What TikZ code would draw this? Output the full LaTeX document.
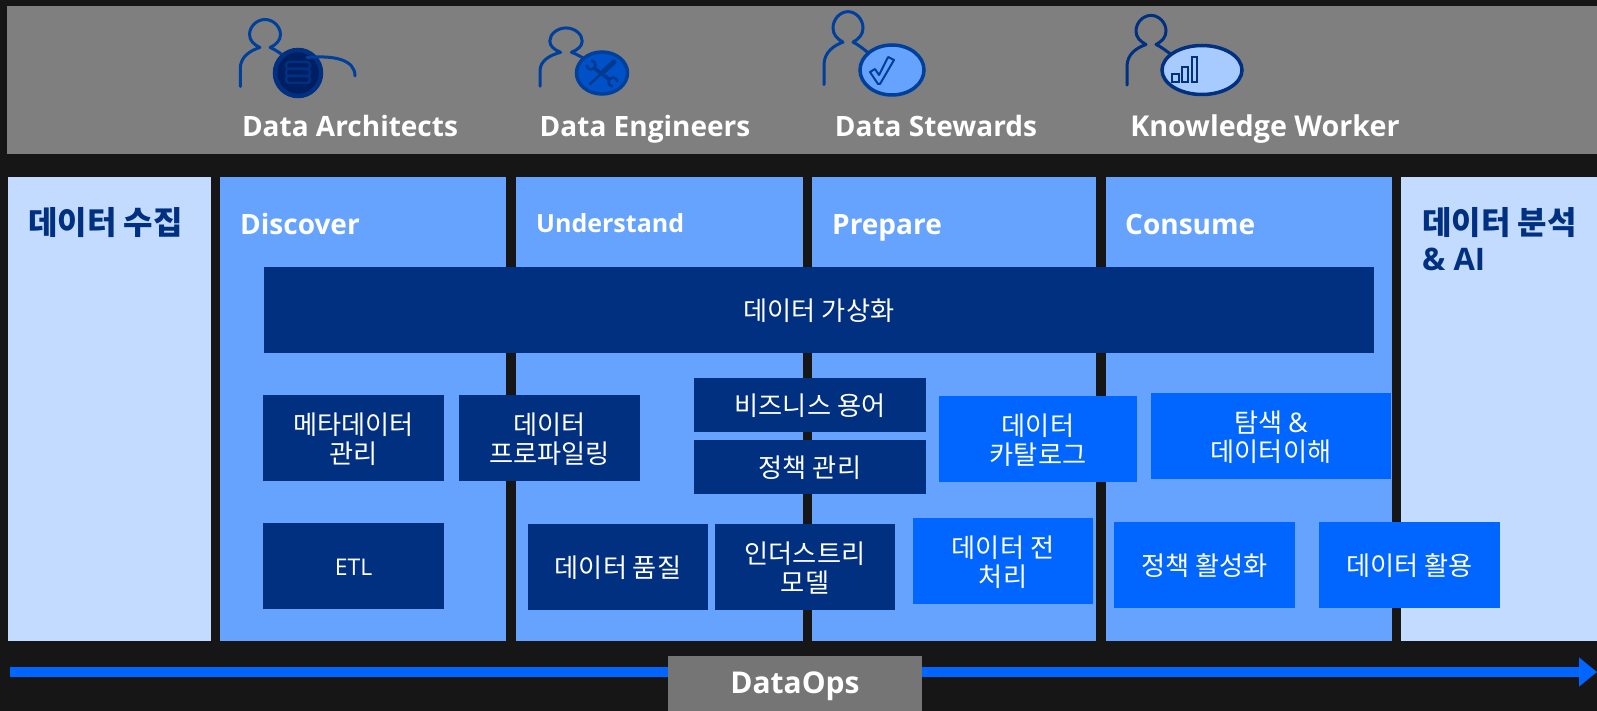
\documentclass[tikz,border=0pt]{standalone}
\usepackage{fontspec}
\setmainfont{Noto Sans CJK KR}
\newfontfamily\latinf{Open Sans}
\usetikzlibrary{arrows.meta}
\definecolor{bgc}{HTML}{161616}
\definecolor{grayband}{HTML}{7F7F7F}
\definecolor{pale}{HTML}{C2DBFF}
\definecolor{mid}{HTML}{66A3FF}
\definecolor{navy}{HTML}{00307F}
\definecolor{bright}{HTML}{0066FF}
\definecolor{opsgray}{HTML}{757575}
\definecolor{iconblue}{HTML}{00409A}
\definecolor{deepblue}{HTML}{001E62}
\definecolor{toolfill}{HTML}{0050C8}
\definecolor{toolblue}{HTML}{003A90}
\definecolor{barfill}{HTML}{A8CBFF}
\tikzset{
  lbl/.style={font=\fontsize{26.2}{29.5}\selectfont, text=white, align=center, inner sep=0pt, outer sep=0pt},
  shapebox/.style={inner sep=0pt, outer sep=0pt},
  navybox/.style={shapebox, fill=navy},
  brightbox/.style={shapebox, fill=bright},
  palecol/.style={shapebox, fill=pale},
  midcol/.style={shapebox, fill=mid},
  opsbox/.style={shapebox, fill=opsgray},
  coltitle/.style={font=\fontsize{32}{36}\selectfont\bfseries, anchor=base west, align=left, inner sep=0pt},
  lattitle/.style={font=\latinf\fontsize{28}{34}\selectfont\bfseries, anchor=base west, inner sep=0pt, text=white},
  roletext/.style={font=\latinf\fontsize{28}{34}\selectfont\bfseries, text=white, inner sep=0pt, anchor=base},
  iconline/.style={draw=iconblue, line width=3pt, line cap=round, line join=round},
}
\newcommand{\pbox}[7]{%
  \pgfmathsetmacro{\cxx}{(#3+#5)/2}\pgfmathsetmacro{\cyy}{(#4+#6)/2}%
  \pgfmathsetmacro{\www}{#5-#3}\pgfmathsetmacro{\hhh}{#6-#4}%
  \node[#1, minimum width=\www pt, minimum height=\hhh pt] (#2) at (\cxx,\cyy) {};
  \node[lbl] (#2Text) at (\cxx,\cyy+1) {#7};}
\newcommand{\areabox}[6]{%
  \pgfmathsetmacro{\cxx}{(#3+#5)/2}\pgfmathsetmacro{\cyy}{(#4+#6)/2}%
  \pgfmathsetmacro{\www}{#5-#3}\pgfmathsetmacro{\hhh}{#6-#4}%
  \node[#1, minimum width=\www pt, minimum height=\hhh pt] (#2) at (\cxx,\cyy) {};}
% person: head centre (#1,#2), x scale #3, y scale #4, line colour #5
\newcommand{\personicon}[5]{%
  \begin{scope}[shift={(#1,#2)}, xscale=#3, yscale=#4]
    \draw[iconline, draw=#5]
      (-24,52) -- (-24,34) .. controls (-24,22) and (-14,16) .. (-5,13)
      .. controls (-11,10) and (-15,6) .. (-15,0)
      .. controls (-15,-8) and (-8,-15) .. (0,-15)
      .. controls (8,-15) and (15,-8) .. (15,0)
      .. controls (15,6) and (11,10) .. (5,13)
      .. controls (10,15) and (15,19) .. (22,24);
  \end{scope}}
\begin{document}
\begin{tikzpicture}[x=1pt,y=-1pt]
\useasboundingbox (0,0) rectangle (1597,711);
\fill[bgc] (0,0) rectangle (1597,711);
\fill[grayband] (7,6) rectangle (1597,154);

% columns
\areabox{palecol}{colA}{8}{177}{211}{641}
\areabox{midcol}{colB}{220}{177}{506}{641}
\areabox{midcol}{colC}{516}{177}{803}{641}
\areabox{midcol}{colD}{812}{177}{1096}{641}
\areabox{midcol}{colE}{1106}{177}{1392}{641}
\areabox{palecol}{colF}{1401}{177}{1597}{641}

% column titles
\node[coltitle, text=navy] (tA) at (28,235) {데이터 수집};
\node[lattitle] (tB) at (240,235) {Discover};
\node[lattitle, font=\latinf\fontsize{25}{34}\selectfont\bfseries] (tC) at (536,233) {Understand};
\node[lattitle] (tD) at (832,235) {Prepare};
\node[lattitle] (tE) at (1125,235) {Consume};
\node[coltitle, text=navy] (tF) at (1422,235) {데이터 분석};
\node[coltitle, text=navy] (tG) at (1422,270) {{\latinf\fontsize{31}{36}\selectfont \& AI}};

% boxes
\pbox{navybox}{virt}{264}{267}{1374}{353}{데이터 가상화}
\pbox{navybox}{meta}{263}{395}{444}{481}{메타데이터\\관리}
\pbox{navybox}{prof}{459}{395}{640}{481}{데이터\\프로파일링}
\pbox{navybox}{biz}{694}{378}{926}{432}{비즈니스 용어}
\pbox{navybox}{pol}{694}{440}{926}{494}{정책 관리}
\pbox{brightbox}{cat}{939}{396}{1137}{482}{데이터\\카탈로그}
\pbox{brightbox}{expl}{1151}{393}{1391}{479}{탐색 {\latinf\fontsize{27}{30}\selectfont\&}\\데이터이해}
\pbox{navybox}{etl}{263}{523}{444}{609}{{\latinf\fontsize{23}{30}\selectfont ETL}}
\pbox{navybox}{qual}{528}{524}{708}{610}{데이터 품질}
\pbox{navybox}{ind}{715}{524}{895}{610}{인더스트리\\모델}
\pbox{brightbox}{prep}{913}{518}{1093}{604}{데이터 전\\처리}
\pbox{brightbox}{act}{1114}{522}{1295}{608}{정책 활성화}
\pbox{brightbox}{use}{1319}{522}{1500}{608}{데이터 활용}

% DataOps arrow
\coordinate (arrowStart) at (10,672);
\coordinate (arrowEnd) at (1597,672);
\draw[bright, line width=10pt, -{Triangle[length=18pt,width=28pt]}] (arrowStart) -- (arrowEnd);
\areabox{opsbox}{ops}{668}{656}{922}{711}
\node[font=\latinf\fontsize{30}{36}\selectfont\bfseries, text=white, inner sep=0pt] (opsText) at (795,686) {DataOps};

% role labels
\node[roletext] (rA) at (350,137) {Data Architects};
\node[roletext] (rB) at (645,137) {Data Engineers};
\node[roletext] (rC) at (936,137) {Data Stewards};
\node[roletext, font=\latinf\fontsize{28.7}{34}\selectfont\bfseries] (rD) at (1265,137) {Knowledge Worker};

% --- Data Architects icon
\personicon{265}{34.5}{1.03}{1}{iconblue}
\draw[fill=deepblue, draw=navy, line width=4.5pt] (298,73) circle (23);
\draw[iconblue, line width=3pt, line cap=round] (307,57.5) .. controls (335,55) and (355,60) .. (355,76);
\begin{scope}[shift={(298,73)}]
  \draw[navy, line width=2.5pt, rounded corners=3pt] (-12,-11) rectangle (12,-4);
  \draw[navy, line width=2.5pt, rounded corners=3pt] (-12,-4) rectangle (12,3);
  \draw[navy, line width=2.5pt, rounded corners=3pt] (-12,3) rectangle (12,10);
\end{scope}

% --- Data Engineers icon
\personicon{566}{41}{1.08}{0.87}{iconblue}
\draw[fill=toolfill, draw=iconblue, line width=3.5pt] (602,73) ellipse (25.5 and 21);
\begin{scope}[shift={(602,73)}]
  \draw[toolblue, line width=2.5pt, line cap=round] (-12,11) -- (1,-1);
  \draw[toolblue, line width=5pt, line cap=round] (1,-1) -- (12,-11);
  \draw[toolblue, line width=3.5pt] (-8,-5) -- (8,7);
  \begin{scope}[shift={(-11,-8)}]
    \draw[toolblue, line width=2.5pt] (270:4.5) arc[start angle=270, end angle=540, radius=4.5];
  \end{scope}
  \begin{scope}[shift={(11,9)}]
    \draw[toolblue, line width=2.5pt] (90:4.5) arc[start angle=90, end angle=360, radius=4.5];
  \end{scope}
\end{scope}

% --- Data Stewards icon
\personicon{848}{28}{1}{1.09}{iconblue}
\draw[fill=mid, draw=iconblue, line width=3.5pt] (892,70) ellipse (32 and 25);
\begin{scope}[shift={(882,74)}]
  \draw[iconblue, line width=2pt, line join=round, fill=mid]
    (-12,-2) -- (-7,-5) -- (-3,1) -- (6,-17) -- (12,-14) -- (-2,10) -- (-4,10) -- cycle;
\end{scope}

% --- Knowledge Worker icon
\personicon{1151}{31}{1}{1.04}{navy}
\draw[fill=barfill, draw=navy, line width=3.5pt] (1202,70) ellipse (40 and 24.5);
\draw[navy, line width=2.5pt] (1172,74) rectangle (1179,82);
\draw[navy, line width=2.5pt] (1182,67) rectangle (1188,82);
\draw[navy, line width=2.5pt] (1192,57) rectangle (1197,82);
\end{tikzpicture}
\end{document}
